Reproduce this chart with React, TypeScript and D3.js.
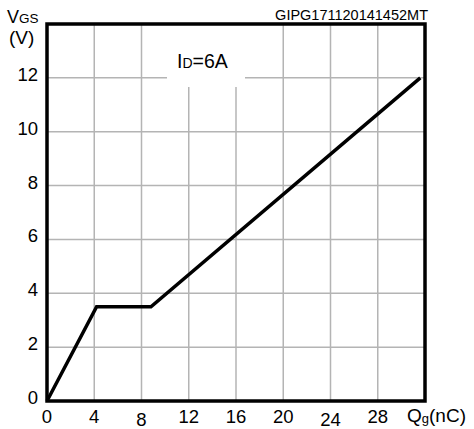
import React, { useEffect, useRef } from 'react';
import * as d3 from 'd3';

// gate charge curve
const qg = [0, 4.2, 8.8, 31.6];
const vgs = [0, 3.5, 3.5, 12];

const xTicks = [0, 4, 8, 12, 16, 20, 24, 28];
const yTicks = [0, 2, 4, 6, 8, 10, 12];
const xGrid = [4, 8, 12, 16, 20, 24, 28];
const yGrid = [2, 4, 6, 8, 10, 12];

const W = 474;
const H = 429;
const margin = { top: 24, right: 49, bottom: 28, left: 47 };
const FONT = 'Arial, "Liberation Sans", sans-serif';

export default function App() {
  const ref = useRef<SVGSVGElement>(null);

  useEffect(() => {
    if (!ref.current) return;
    const svg = d3.select(ref.current);
    svg.selectAll('*').remove();

    const iw = W - margin.left - margin.right;
    const ih = H - margin.top - margin.bottom;
    const x = d3.scaleLinear().domain([0, 32]).range([margin.left, margin.left + iw]);
    const y = d3.scaleLinear().domain([0, 14]).range([margin.top + ih, margin.top]);

    svg.append('rect').attr('width', W).attr('height', H).attr('fill', '#fff');

    // grid
    const grid = svg.append('g').attr('stroke', '#b4b4b4').attr('stroke-width', 1.5);
    grid.selectAll('.gx').data(xGrid).enter().append('line')
      .attr('x1', d => x(d)).attr('x2', d => x(d))
      .attr('y1', y(0)).attr('y2', y(14));
    grid.selectAll('.gy').data(yGrid).enter().append('line')
      .attr('x1', x(0)).attr('x2', x(32))
      .attr('y1', d => y(d)).attr('y2', d => y(d));

    // white box behind the condition label
    svg.append('rect')
      .attr('x', 167).attr('y', y(14)).attr('width', 78).attr('height', 63)
      .attr('fill', '#fff');

    const label = svg.append('text')
      .attr('x', 177).attr('y', 68)
      .attr('font-family', FONT).attr('font-size', 19.5).attr('fill', '#000');
    label.append('tspan').text('I');
    label.append('tspan').attr('font-size', 14).text('D');
    label.append('tspan').text('=6A');

    // curve
    const line = d3.line<number>().x((d, i) => x(qg[i])).y(d => y(d));
    svg.append('path')
      .datum(vgs)
      .attr('d', line)
      .attr('fill', 'none')
      .attr('stroke', '#000')
      .attr('stroke-width', 3.5)
      .attr('stroke-linejoin', 'miter');

    // frame
    svg.append('rect')
      .attr('x', x(0)).attr('y', y(14))
      .attr('width', iw).attr('height', ih)
      .attr('fill', 'none').attr('stroke', '#000').attr('stroke-width', 3.5);

    // tick labels
    svg.append('g').selectAll('text').data(xTicks).enter().append('text')
      .attr('x', d => x(d)).attr('y', d => (d === 8 || d === 24 ? 426 : 423))
      .attr('text-anchor', 'middle')
      .attr('font-family', FONT).attr('font-size', 18.5)
      .text(d => d);
    svg.append('g').selectAll('text').data(yTicks).enter().append('text')
      .attr('x', 38).attr('y', d => y(d) + 3)
      .attr('text-anchor', 'end')
      .attr('font-family', FONT).attr('font-size', 18.5)
      .text(d => d);

    // axis titles
    const xt = svg.append('text')
      .attr('x', 407).attr('y', 422)
      .attr('font-family', FONT).attr('font-size', 19);
    xt.append('tspan').text('Q');
    xt.append('tspan').attr('font-size', 13).attr('dy', 1).text('g');
    xt.append('tspan').attr('dy', -1).text('(nC)');

    const yt = svg.append('text')
      .attr('x', 7).attr('y', 22.5)
      .attr('font-family', FONT).attr('font-size', 18);
    yt.append('tspan').text('V');
    yt.append('tspan').attr('font-size', 13.5).text('GS');
    svg.append('text')
      .attr('x', 9).attr('y', 44)
      .attr('font-family', FONT).attr('font-size', 19)
      .text('(V)');

    svg.append('text')
      .attr('x', 428).attr('y', 20)
      .attr('text-anchor', 'end')
      .attr('font-family', FONT).attr('font-size', 14.5)
      .text('GIPG171120141452MT');
  }, []);

  return (
    <svg ref={ref} width={W} height={H}
      style={{ display: 'block', position: 'absolute', left: 0, top: 0 }} />
  );
}
